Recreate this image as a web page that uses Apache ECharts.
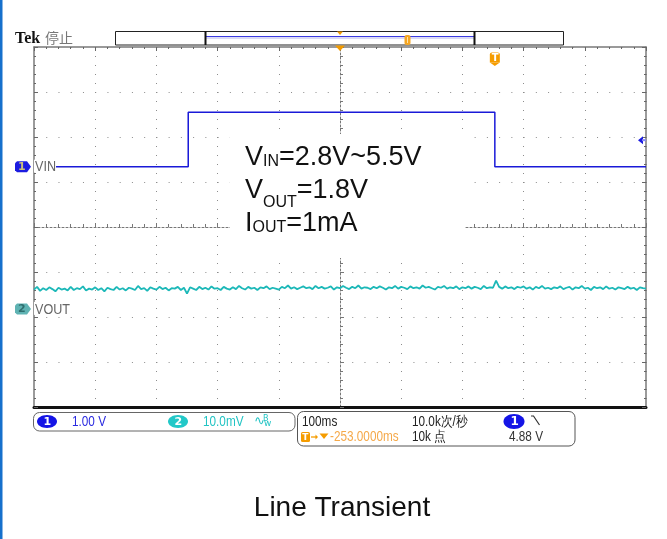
<!DOCTYPE html>
<html>
<head>
<meta charset="utf-8">
<script src="https://cdn.jsdelivr.net/npm/echarts@6/dist/echarts.min.js"></script>
<style>
  html, body { margin: 0; padding: 0; background: #fff; }
  #scope { width: 667px; height: 539px; }
</style>
</head>
<body>
<div id="scope"></div>
<script>
// ---- acquisition settings ----
const timePerDiv = 100;          // ms / div
const triggerToCenter = -253;    // ms, horizontal position
const ch1VoltsPerDiv = 1.0;      // V / div
const ch2MilliVoltsPerDiv = 10;  // mV / div
const ch1Ref = 4.29;             // V at the channel-1 marker
const ch1Pos = 1.34;             // div above screen centre
const ch2Ref = 0;                // mV at the channel-2 marker
const ch2Pos = -1.82;            // div above screen centre
const triggerLevel = 4.88;       // V
const triggerTime = 0;           // ms

// ---- channel 1: VIN step (ms, V) ----
const vinTime  = [-753, -501, -501, 0, 0, 247];
const vinVolts = [4.29, 4.29, 5.50, 5.50, 4.29, 4.29];

// ---- channel 2: VOUT ripple (mV), one sample every 5 ms from the left edge ----
const voutStart = -753;
const voutStep = 5;
const voutMilliVolts = [
  4.3,4.9,4.0,4.6,4.2,4.8,4.4,3.9,4.7,4.3,
  4.5,4.1,4.9,4.2,4.6,4.4,5.0,4.1,4.5,4.3,
  4.8,4.2,4.6,3.9,4.7,4.4,4.2,4.9,4.3,4.6,
  4.1,4.7,4.5,4.2,5.1,4.4,4.6,4.0,4.8,4.5,
  4.3,4.9,4.4,4.7,4.1,4.6,4.5,4.9,4.2,4.7,
  3.4,4.8,4.5,4.2,4.9,4.4,4.7,4.3,5.0,4.5,
  4.6,4.2,4.9,4.5,4.3,4.8,4.4,5.1,4.6,4.3,
  4.9,4.5,4.7,4.2,4.8,4.6,5.0,4.4,4.7,4.5,
  4.3,4.9,4.6,5.2,4.5,4.8,4.4,4.7,5.0,4.6,
  4.8,4.4,5.1,4.6,4.9,4.5,4.7,5.0,4.3,4.8,
  4.6,5.1,4.7,4.4,4.9,4.6,5.2,4.5,4.8,4.7,
  4.4,4.9,4.6,5.0,4.7,4.3,4.8,4.6,5.1,4.5,
  4.9,4.7,4.4,5.0,4.6,4.8,4.5,5.2,4.7,4.9,
  4.6,4.3,4.9,4.7,5.1,4.5,4.8,4.6,5.0,4.4,
  4.8,4.6,5.0,4.5,4.9,4.7,4.4,5.1,4.6,4.8,
  4.7,6.3,4.9,4.5,5.0,4.6,4.8,4.4,4.9,4.7,
  5.0,4.5,4.8,4.3,4.9,4.6,5.1,4.5,4.7,4.4,
  4.8,4.6,5.0,4.4,4.7,4.9,4.3,4.8,4.6,5.1,
  4.5,4.7,4.2,4.9,4.6,4.8,4.4,5.0,4.5,4.7,
  4.3,4.8,4.6,4.4,4.9,4.5,4.7,4.2,4.8,4.6,
  4.5
];

// ---- readout texts ----
const ch1Scale = '1.00 V';
const ch2Scale = '10.0mV';
const horizScale = '100ms';
const sampleRate = '10.0k次/秒';
const recordLength = '10k 点';
const horizPosition = '-253.0000ms';
const trigReadout = '4.88 V';
const titleText = 'Line Transient';

// ---- derived axis ranges ----
const xMin = triggerToCenter - 5 * timePerDiv;
const xMax = triggerToCenter + 5 * timePerDiv;
const y1Min = ch1Ref - (4 + ch1Pos) * ch1VoltsPerDiv;
const y1Max = ch1Ref + (4 - ch1Pos) * ch1VoltsPerDiv;
const y2Min = ch2Ref - (4 + ch2Pos) * ch2MilliVoltsPerDiv;
const y2Max = ch2Ref + (4 - ch2Pos) * ch2MilliVoltsPerDiv;

const vinData = vinTime.map((t, i) => [t, vinVolts[i]]);
const voutData = voutMilliVolts.map((v, i) => [voutStart + i * voutStep, v]);

const DOT = '#8c8c8c';
const BORDER = '#7a7a7a';
const SANS = '"Liberation Sans", Arial, sans-serif';
const NARROW_SCALE = 0.84;   // readout font is a condensed face

const chart = echarts.init(document.getElementById('scope'), null, { renderer: 'canvas' });

const borderAxis = (pos) => ({
  type: 'value', min: -4, max: 4, interval: 1, position: pos,
  axisLine: { show: true, onZero: false, lineStyle: { color: BORDER, width: 1.5 } },
  axisTick: { show: true, inside: true, length: 4, lineStyle: { color: '#666' } },
  minorTick: { show: true, splitNumber: 5, length: 2, lineStyle: { color: '#666' } },
  axisLabel: { show: false }, splitLine: { show: false }
});

chart.setOption({
  animation: false,
  backgroundColor: '#fff',
  grid: { left: 34, top: 47, right: 21, bottom: 132 },
  xAxis: [
    { // graticule divisions; axis line drawn through the centre
      type: 'value', min: -5, max: 5, interval: 1, position: 'bottom',
      axisLine: { show: true, onZero: true, onZeroAxisIndex: 0, lineStyle: { color: '#777', width: 1, type: [2, 2] } },
      axisTick: { show: true, inside: true, length: 4, lineStyle: { color: '#777' } },
      minorTick: { show: true, splitNumber: 5, length: 3, lineStyle: { color: '#777' } },
      axisLabel: { show: false },
      splitLine: { show: true, lineStyle: { color: DOT, width: 1, type: [1, 8] } }
    },
    { // time from trigger, ms
      type: 'value', min: xMin, max: xMax, position: 'bottom',
      axisLine: { show: true, onZero: false, lineStyle: { color: '#111', width: 3 } },
      axisTick: { show: false }, axisLabel: { show: false }, splitLine: { show: false }
    },
    { // top edge of the graticule
      type: 'value', min: -5, max: 5, interval: 1, position: 'top',
      axisLine: { show: true, onZero: false, lineStyle: { color: BORDER, width: 1.5 } },
      axisTick: { show: true, inside: true, length: 4, lineStyle: { color: '#666' } },
      minorTick: { show: true, splitNumber: 5, length: 2, lineStyle: { color: '#666' } },
      axisLabel: { show: false }, splitLine: { show: false }
    }
  ],
  yAxis: [
    { // graticule divisions; axis line drawn through the centre
      type: 'value', min: -4, max: 4, interval: 1, position: 'left',
      axisLine: { show: true, onZero: true, onZeroAxisIndex: 0, lineStyle: { color: '#777', width: 1, type: [2, 2] } },
      axisTick: { show: true, inside: true, length: 4, lineStyle: { color: '#777' } },
      minorTick: { show: true, splitNumber: 5, length: 3, lineStyle: { color: '#777' } },
      axisLabel: { show: false },
      splitLine: { show: true, lineStyle: { color: DOT, width: 1, type: [1, 11.24] } }
    },
    { type: 'value', min: y1Min, max: y1Max, show: false },  // CH1, V
    { type: 'value', min: y2Min, max: y2Max, show: false },  // CH2, mV
    borderAxis('left'),
    borderAxis('right')
  ],
  series: [
    {
      name: 'VIN', type: 'line', xAxisIndex: 1, yAxisIndex: 1, data: vinData,
      symbol: 'none', z: 5, lineStyle: { color: '#1a1ad8', width: 1.5 }
    },
    {
      name: 'VOUT', type: 'line', xAxisIndex: 1, yAxisIndex: 2, data: voutData,
      symbol: 'none', z: 4, lineStyle: { color: '#1cb8b8', width: 1.8 }
    }
  ]
});

// ---- annotations placed from the axis scales ----
const px = (t) => chart.convertToPixel({ xAxisIndex: 1 }, t);
const py1 = (v) => chart.convertToPixel({ yAxisIndex: 1 }, v);
const py2 = (v) => chart.convertToPixel({ yAxisIndex: 2 }, v);

const centreX = px(triggerToCenter);
const trigX = px(triggerTime);
const trigY = py1(triggerLevel);
const ch1Y = py1(ch1Ref);
const ch2Y = py2(ch2Ref);
const gridRight = px(xMax);

const measureCtx = document.createElement('canvas').getContext('2d');
function textWidth(str, font) { measureCtx.font = font; return measureCtx.measureText(str).width; }

const g = [];
const T = (x, y, text, font, fill, extra) => g.push(Object.assign({
  type: 'text', z: 40, x, y,
  style: { text, font, fill, align: 'left', verticalAlign: 'middle' }
}, extra || {}));
// condensed readout text
const R = (x, y, text, fill, size) => T(x, y, text, (size || 14) + 'px ' + SANS, fill, { scaleX: NARROW_SCALE });

// page edge
g.push({ type: 'rect', z: 30, shape: { x: 0, y: 0, width: 2.5, height: 539 }, style: { fill: '#1670cc' } });

// header
T(15, 38.5, 'Tek', 'bold 16px "Liberation Serif", serif', '#111');
T(45, 38, '停止', '14px "Noto Sans CJK SC", sans-serif', '#777');

// record view bar
g.push({ type: 'rect', z: 20, shape: { x: 115.5, y: 31.5, width: 448, height: 13.5 }, style: { fill: '#fff', stroke: '#222', lineWidth: 1 } });
g.push({ type: 'line', z: 21, shape: { x1: 206, y1: 36.5, x2: 474, y2: 36.5 }, style: { stroke: '#3b3be0', lineWidth: 1 } });
g.push({ type: 'line', z: 21, shape: { x1: 206, y1: 38, x2: 474, y2: 38 }, style: { stroke: '#b4b4ee', lineWidth: 1 } });
g.push({ type: 'line', z: 22, shape: { x1: 205.5, y1: 31, x2: 205.5, y2: 45 }, style: { stroke: '#111', lineWidth: 2 } });
g.push({ type: 'line', z: 22, shape: { x1: 474.5, y1: 31, x2: 474.5, y2: 45 }, style: { stroke: '#111', lineWidth: 2 } });
g.push({ type: 'polygon', z: 22, shape: { points: [[centreX - 3, 31.5], [centreX + 3, 31.5], [centreX, 35]] }, style: { fill: '#f29a00' } });
g.push({ type: 'rect', z: 22, shape: { x: 404.5, y: 35, width: 6, height: 10, r: 2 }, style: { fill: '#f5a623' } });
g.push({ type: 'line', z: 23, shape: { x1: 407.5, y1: 37, x2: 407.5, y2: 43 }, style: { stroke: '#ffe2a8', lineWidth: 1 } });

// horizontal-position marker under the bar
g.push({ type: 'polygon', z: 22, shape: { points: [[centreX - 5, 45.5], [centreX + 5, 45.5], [centreX, 51]] }, style: { fill: '#f29a00' } });

// trigger position marker
g.push({ type: 'rect', z: 22, shape: { x: trigX - 5, y: 52.5, width: 10, height: 10, r: [2, 2, 0, 0] }, style: { fill: '#f59c00' } });
g.push({ type: 'polygon', z: 22, shape: { points: [[trigX - 5, 62.5], [trigX + 5, 62.5], [trigX, 66]] }, style: { fill: '#f59c00' } });
T(trigX - 3.2, 58, 'T', 'bold 10px "DejaVu Sans", sans-serif', '#fff');

// trigger level marker on the right edge
g.push({ type: 'polygon', z: 22, shape: { points: [[gridRight - 8, trigY], [gridRight - 3, trigY - 4], [gridRight - 3, trigY + 4]] }, style: { fill: '#1a1ae0' } });
g.push({ type: 'line', z: 22, shape: { x1: gridRight - 4, y1: trigY, x2: gridRight, y2: trigY }, style: { stroke: '#8c8cf0', lineWidth: 2 } });

// channel markers
function chTag(y, color, numColor, num, label, labelW) {
  g.push({ type: 'rect', z: 24, shape: { x: 34, y: y - 7, width: labelW, height: 13 }, style: { fill: '#fff' } });
  g.push({ type: 'polygon', z: 25, shape: { points: [[17, y - 5.5], [27, y - 5.5], [31, y], [27, y + 5.5], [17, y + 5.5], [15, y + 3.5], [15, y - 3.5]] }, style: { fill: color } });
  T(18, y + 0.5, num, 'bold 11px "DejaVu Sans", sans-serif', numColor);
  R(35, y + 0.5, label, '#666', 15);
}
chTag(ch1Y, '#1c1ce0', '#c9c07a', '1', 'VIN', 22);
chTag(ch2Y, '#5fb3b3', '#2f6f6f', '2', 'VOUT', 32);

// test-condition text block on a white panel
g.push({ type: 'rect', z: 3, shape: { x: 230, y: 134, width: 235, height: 124 }, style: { fill: '#fff' } });
const bigF = '27px ' + SANS, subF = '16px ' + SANS;
function formula(x, baseY, lead, sub, rest, subDrop) {
  // text is positioned by its middle; baseline ~ middle + 0.36 * size
  T(x, baseY - 0.36 * 27, lead, bigF, '#111');
  const x2 = x + textWidth(lead, bigF);
  T(x2, baseY + subDrop - 0.36 * 16, sub, subF, '#111');
  const x3 = x2 + textWidth(sub, subF);
  T(x3, baseY - 0.36 * 27, rest, bigF, '#111');
}
formula(245, 167, 'V', 'IN', '=2.8V~5.5V', 0);
formula(245, 200, 'V', 'OUT', '=1.8V', 8);
formula(245, 233, 'I', 'OUT', '=1mA', 0);

// readout panel: vertical
g.push({ type: 'rect', z: 20, shape: { x: 33.5, y: 412.5, width: 261.5, height: 18.5, r: 6 }, style: { fill: '#fff', stroke: '#666', lineWidth: 1 } });
g.push({ type: 'ellipse', z: 21, shape: { cx: 47, cy: 421.5, rx: 10, ry: 6.5 }, style: { fill: '#1414e6' } });
T(43.5, 422, '1', 'bold 11px "DejaVu Sans", sans-serif', '#fff');
R(72, 422, ch1Scale, '#2a2ae0');
g.push({ type: 'ellipse', z: 21, shape: { cx: 178, cy: 421.5, rx: 10, ry: 6.5 }, style: { fill: '#22c8c8' } });
T(174.5, 422, '2', 'bold 11px "DejaVu Sans", sans-serif', '#fff');
R(203, 422, ch2Scale, '#22c4c4');
T(254, 422, '∿', '13px "DejaVu Sans", sans-serif', '#22c4c4');
T(263, 418.5, 'B', '8px "DejaVu Sans", sans-serif', '#22c4c4');
T(264, 424, 'w', '9px "DejaVu Sans", sans-serif', '#22c4c4');

// readout panel: horizontal / trigger
g.push({ type: 'rect', z: 20, shape: { x: 297.5, y: 411.5, width: 277.5, height: 34.5, r: 6 }, style: { fill: '#fff', stroke: '#555', lineWidth: 1 } });
R(302, 422, horizScale, '#222');
R(412, 422, sampleRate, '#222');
g.push({ type: 'ellipse', z: 21, shape: { cx: 514, cy: 421.5, rx: 10.5, ry: 7.5 }, style: { fill: '#1414e6' } });
T(510.5, 422, '1', 'bold 12px "DejaVu Sans", sans-serif', '#fff');
g.push({ type: 'polyline', z: 21, shape: { points: [[531, 416], [533.5, 416], [539.5, 425]] }, style: { stroke: '#333', lineWidth: 1.2, fill: null } });
g.push({ type: 'rect', z: 21, shape: { x: 301, y: 432, width: 9, height: 10, r: 1.5 }, style: { fill: '#f59c00' } });
T(302.2, 437.5, 'T', 'bold 9px "DejaVu Sans", sans-serif', '#fff');
g.push({ type: 'line', z: 21, shape: { x1: 311, y1: 437, x2: 317, y2: 437 }, style: { stroke: '#f59c00', lineWidth: 1.3 } });
g.push({ type: 'polygon', z: 21, shape: { points: [[315.5, 434.5], [318, 437], [315.5, 439.5]] }, style: { fill: '#f59c00' } });
g.push({ type: 'polygon', z: 21, shape: { points: [[319.5, 433.5], [328.5, 433.5], [324, 439]] }, style: { fill: '#f59c00' } });
R(330, 437.5, horizPosition, '#f5a94a');
R(412, 437.5, recordLength, '#222');
R(509, 437.5, trigReadout, '#333');

// caption
g.push({ type: 'text', z: 40, x: 342, y: 508, style: { text: titleText, font: '28px ' + SANS, fill: '#111', align: 'center', verticalAlign: 'middle' } });

chart.setOption({ graphic: g });
</script>
</body>
</html>
